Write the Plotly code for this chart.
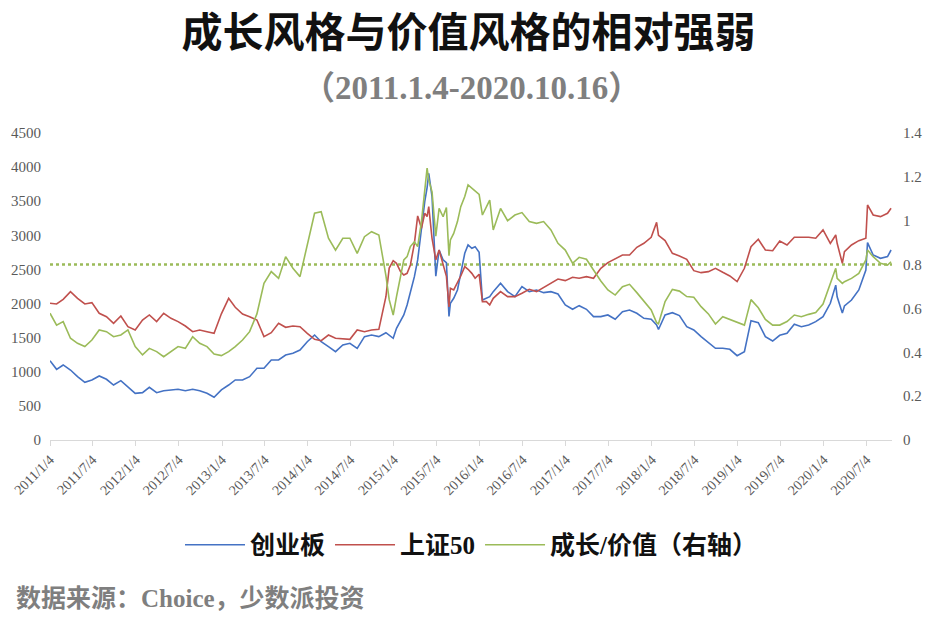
import plotly.graph_objects as go

# monthly readings (extra points around sharp moves)
dates = [
    "2011-01-04", "2011-02-01", "2011-03-01", "2011-04-01", "2011-05-01", "2011-06-01",
    "2011-07-01", "2011-08-01", "2011-09-01", "2011-10-01", "2011-11-01", "2011-12-01",
    "2012-01-01", "2012-02-01", "2012-03-01", "2012-04-01", "2012-05-01", "2012-06-01",
    "2012-07-01", "2012-08-01", "2012-09-01", "2012-10-01", "2012-11-01", "2012-12-01",
    "2013-01-01", "2013-02-01", "2013-03-01", "2013-04-01", "2013-05-01", "2013-06-01",
    "2013-07-01", "2013-08-01", "2013-09-01", "2013-10-01", "2013-11-01", "2013-12-01",
    "2014-01-01", "2014-02-01", "2014-03-01", "2014-04-01", "2014-05-01", "2014-06-01",
    "2014-07-01", "2014-08-01", "2014-09-01", "2014-10-01", "2014-11-01", "2014-12-01",
    "2014-12-15", "2015-01-01", "2015-01-15", "2015-02-01", "2015-02-15", "2015-03-01",
    "2015-03-15", "2015-04-01", "2015-04-15", "2015-05-01", "2015-05-15", "2015-05-25",
    "2015-06-01", "2015-06-15", "2015-07-01", "2015-07-15", "2015-08-01", "2015-08-15",
    "2015-08-26", "2015-09-01", "2015-09-15", "2015-10-01", "2015-10-15", "2015-11-01",
    "2015-11-15", "2015-12-01", "2015-12-15", "2016-01-01", "2016-01-15", "2016-02-01",
    "2016-02-15", "2016-03-01", "2016-04-01", "2016-05-01", "2016-06-01", "2016-07-01",
    "2016-08-01", "2016-09-01", "2016-10-01", "2016-11-01", "2016-12-01", "2017-01-01",
    "2017-02-01", "2017-03-01", "2017-04-01", "2017-05-01", "2017-06-01", "2017-07-01",
    "2017-08-01", "2017-09-01", "2017-10-01", "2017-11-01", "2017-12-01", "2018-01-01",
    "2018-01-24", "2018-02-01", "2018-03-01", "2018-04-01", "2018-05-01", "2018-06-01",
    "2018-07-01", "2018-08-01", "2018-09-01", "2018-10-01", "2018-11-01", "2018-12-01",
    "2019-01-01", "2019-02-01", "2019-03-01", "2019-04-01", "2019-05-01", "2019-06-01",
    "2019-07-01", "2019-08-01", "2019-09-01", "2019-10-01", "2019-11-01", "2019-12-01",
    "2020-01-01", "2020-02-01", "2020-02-24", "2020-03-01", "2020-03-23", "2020-04-01",
    "2020-05-01", "2020-06-01", "2020-07-01", "2020-07-08", "2020-08-01", "2020-09-01",
    "2020-10-01", "2020-10-16",
]

chinext = [
    1163, 1036, 1100, 1026, 928, 845, 880, 938, 890, 806, 870, 782,
    684, 694, 772, 694, 723, 733, 743, 723, 743, 723, 684, 626,
    735, 806, 880, 880, 928, 1051, 1051, 1173, 1173, 1246, 1271, 1319,
    1441, 1539, 1441, 1368, 1295, 1393, 1417, 1344, 1515, 1539, 1515, 1573,
    1540, 1491, 1637, 1749, 1833, 1979, 2150, 2394, 2639, 3127, 3494, 3700,
    3909, 3567, 2400, 2785, 2639, 2600, 1810, 2004, 2077, 2199, 2468, 2737,
    2859, 2810, 2834, 2750, 2052, 2077, 2101, 2175, 2297, 2175, 2101, 2248,
    2175, 2199, 2160, 2175, 2140, 1979, 1916, 1969, 1916, 1808, 1808, 1833,
    1769, 1881, 1906, 1857, 1784, 1769, 1686, 1620, 1833, 1866, 1823, 1661,
    1613, 1515, 1427, 1344, 1344, 1329, 1236, 1295, 1749, 1720, 1515, 1451,
    1535, 1564, 1696, 1661, 1686, 1735, 1808, 2004, 2270, 2100, 1860, 1964,
    2052, 2199, 2492, 2893, 2712, 2663, 2688, 2785,
]

sse50 = [
    2004, 1994, 2062, 2175, 2077, 1994, 2013, 1857, 1808, 1710, 1818, 1661,
    1613, 1759, 1833, 1735, 1857, 1784, 1735, 1671, 1588, 1613, 1588, 1564,
    1850, 2077, 1945, 1847, 1808, 1759, 1515, 1573, 1710, 1652, 1671, 1661,
    1564, 1476, 1456, 1539, 1491, 1486, 1476, 1613, 1588, 1613, 1622, 2100,
    2520, 2629, 2590, 2468, 2419, 2443, 2566, 2883, 3284, 3103, 3323, 3274,
    3421, 2957, 2640, 2785, 2566, 2400, 1950, 2223, 2199, 2297, 2404, 2541,
    2502, 2443, 2370, 2430, 2028, 2028, 1979, 2077, 2175, 2101, 2101, 2150,
    2209, 2175, 2238, 2297, 2360, 2336, 2385, 2370, 2394, 2370, 2517, 2600,
    2653, 2712, 2712, 2825, 2883, 2971, 3190, 3000, 2922, 2737, 2697, 2649,
    2482, 2453, 2468, 2517, 2458, 2404, 2321, 2517, 2834, 2942, 2785, 2775,
    2917, 2859, 2971, 2971, 2971, 2957, 3079, 2883, 3005, 2883, 2590, 2761,
    2859, 2922, 2957, 3445, 3299, 3274, 3323, 3396,
]

ratio = [
    0.578, 0.524, 0.540, 0.464, 0.441, 0.426, 0.456, 0.502, 0.494, 0.471, 0.479, 0.502,
    0.426, 0.388, 0.418, 0.403, 0.380, 0.403, 0.426, 0.418, 0.471, 0.441, 0.426, 0.392,
    0.385, 0.403, 0.426, 0.456, 0.494, 0.575, 0.714, 0.768, 0.737, 0.836, 0.783, 0.745,
    0.889, 1.034, 1.041, 0.920, 0.866, 0.920, 0.920, 0.851, 0.927, 0.950, 0.935, 0.750,
    0.640, 0.570, 0.654, 0.737, 0.821, 0.836, 0.882, 0.904, 0.882, 0.996, 1.132, 1.240,
    1.186, 1.132, 0.930, 1.056, 1.018, 1.060, 0.840, 0.912, 0.942, 0.996, 1.064, 1.110,
    1.163, 1.148, 1.132, 1.120, 1.026, 1.064, 1.094, 0.958, 1.056, 1.000, 1.026, 1.037,
    0.996, 0.988, 0.996, 0.958, 0.897, 0.866, 0.806, 0.833, 0.824, 0.775, 0.725, 0.684,
    0.661, 0.699, 0.710, 0.672, 0.631, 0.593, 0.535, 0.530, 0.631, 0.687, 0.679, 0.654,
    0.651, 0.608, 0.575, 0.529, 0.562, 0.550, 0.540, 0.524, 0.640, 0.603, 0.550, 0.524,
    0.524, 0.540, 0.570, 0.562, 0.573, 0.581, 0.620, 0.714, 0.783, 0.737, 0.714, 0.722,
    0.737, 0.760, 0.821, 0.866, 0.836, 0.806, 0.798, 0.813,
]

tick_dates = [
    "2011-01-04", "2011-07-04", "2012-01-04", "2012-07-04", "2013-01-04",
    "2013-07-04", "2014-01-04", "2014-07-04", "2015-01-04", "2015-07-04",
    "2016-01-04", "2016-07-04", "2017-01-04", "2017-07-04", "2018-01-04",
    "2018-07-04", "2019-01-04", "2019-07-04", "2020-01-04", "2020-07-04",
]
tick_labels = [d[:4] + "/" + str(int(d[5:7])) + "/" + str(int(d[8:])) for d in tick_dates]

ref_level = 0.8

serif = "Liberation Serif, Noto Sans CJK SC, serif"
grey = "#595959"

fig = go.Figure()
fig.add_trace(go.Scatter(x=dates, y=chinext, name="创业板", mode="lines",
                         line=dict(color="#4472C4", width=1.6)))
fig.add_trace(go.Scatter(x=dates, y=sse50, name="上证50", mode="lines",
                         line=dict(color="#C0504D", width=1.6)))
fig.add_trace(go.Scatter(x=dates, y=ratio, name="成长/价值（右轴）", mode="lines",
                         yaxis="y2", line=dict(color="#9BBB59", width=1.6)))

fig.add_shape(type="line", xref="paper", x0=0, x1=1, yref="y2", y0=ref_level, y1=ref_level,
              line=dict(color="#9BBB59", width=2.5, dash="dot"), layer="below")

fig.update_layout(
    width=937,
    height=620,
    margin=dict(l=50, r=45, t=133, b=180),
    paper_bgcolor="white",
    plot_bgcolor="white",
    title=dict(
        text="成长风格与价值风格的相对强弱",
        x=0.5, xanchor="center", y=0.948, yanchor="middle",
        font=dict(family="Noto Sans CJK SC", size=41, color="#111111", weight=700),
    ),
    xaxis=dict(
        type="date",
        range=["2011-01-04", "2020-10-20"],
        tickmode="array",
        tickvals=tick_dates,
        ticktext=tick_labels,
        tickangle=-45,
        ticks="outside",
        ticklen=5,
        tickcolor="#d9d9d9",
        showline=True,
        linecolor="#d9d9d9",
        linewidth=1,
        showgrid=False,
        zeroline=False,
        tickfont=dict(family=serif, size=14, color=grey),
    ),
    yaxis=dict(
        range=[0, 4500],
        tick0=0,
        dtick=500,
        showgrid=False,
        zeroline=False,
        showline=False,
        ticklabelstandoff=8,
        tickfont=dict(family=serif, size=15, color=grey),
    ),
    yaxis2=dict(
        overlaying="y",
        side="right",
        range=[0, 1.4],
        tick0=0,
        dtick=0.2,
        showgrid=False,
        zeroline=False,
        showline=False,
        ticklabelstandoff=10,
        tickfont=dict(family=serif, size=15, color=grey),
    ),
    legend=dict(
        orientation="h",
        x=0.5, xanchor="center",
        y=-0.342, yanchor="middle",
        font=dict(family=serif, size=25, color="#111111", weight=700),
        itemwidth=60,
    ),
    annotations=[
        dict(
            text="（2011.1.4-2020.10.16）",
            xref="paper", yref="paper", x=0.5, y=1.147,
            xanchor="center", yanchor="middle", showarrow=False,
            font=dict(family=serif, size=33, color="#7f7f7f", weight=700),
        ),
        dict(
            text="数据来源：Choice，少数派投资",
            xref="paper", yref="paper", x=-0.043, y=-0.515,
            xanchor="left", yanchor="middle", showarrow=False,
            font=dict(family=serif, size=25, color="#7f7f7f", weight=700),
        ),
    ],
)

fig.write_html("out.html", config={"displayModeBar": False},
               post_script="document.body.style.margin='0';")
